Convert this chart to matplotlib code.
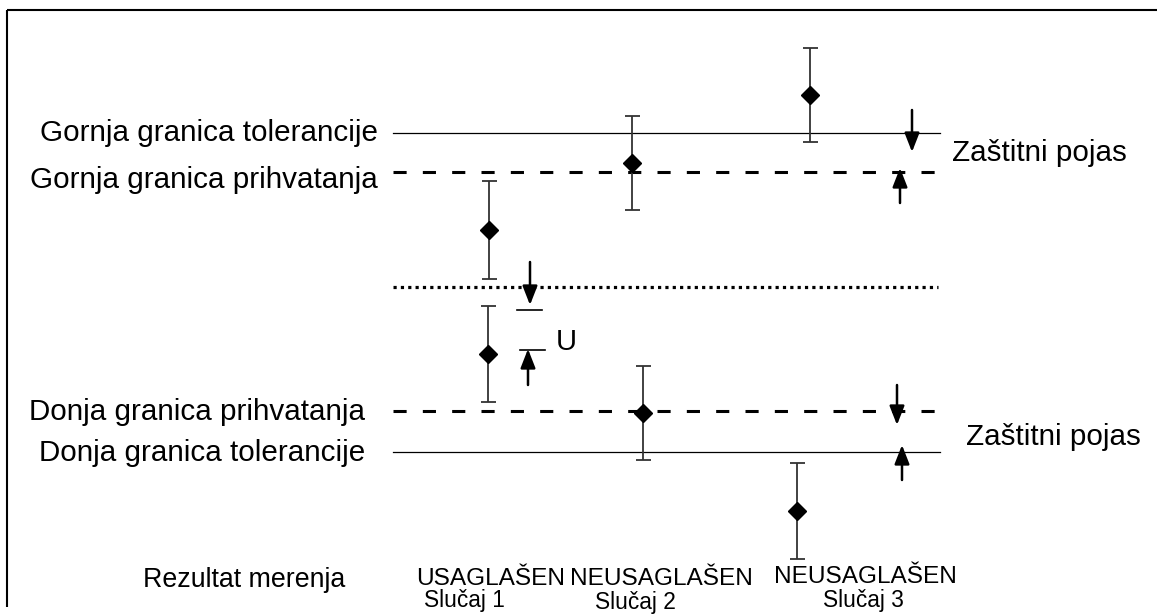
"""
Zaštitni pojas (guard band) diagram: measurement results vs tolerance and acceptance limits.
"""

import matplotlib
matplotlib.use("Agg")
import matplotlib.pyplot as plt

plt.rcParams["font.family"] = ["Liberation Sans", "DejaVu Sans"]

W, H = 1157, 615

# ── Limit lines (y in picture pixels) ─────────────────────────────
tol_upper = 133
acc_upper = 172
mid_line = 287
acc_lower = 411
tol_lower = 452
line_x0, line_x1 = 393, 938

# ── Measurement results: x, y, half-width of uncertainty ─────────
bar_x = [489, 488, 632, 643, 810, 797]
bar_y = [230, 354, 163, 413, 95, 511]
bar_err = [49, 48, 47, 47, 47, 48]

# ── Text ─────────────────────────────────────────────────────────
left_labels = [
    "Gornja granica tolerancije",
    "Gornja granica prihvatanja",
    "Donja granica prihvatanja",
    "Donja granica tolerancije",
]
left_label_y = [133, 180, 412, 453]
left_label_right = [378, 378, 365, 365]

verdicts = ["USAGLAŠEN", "NEUSAGLAŠEN", "NEUSAGLAŠEN"]
verdict_x = [491, 661, 865]
verdict_y = [579, 579, 577]
cases = ["Slučaj 1", "Slučaj 2", "Slučaj 3"]
case_x = [464, 635, 863]
case_y = [601, 602, 600]


def arrow(ax, x, y_from, y_to):
    ax.annotate(
        "", xy=(x, y_to), xytext=(x, y_from),
        arrowprops=dict(arrowstyle="-|>,head_length=1.15,head_width=0.45",
                        mutation_scale=10, lw=1.8, color="black",
                        shrinkA=0, shrinkB=0),
    )


fig = plt.figure(figsize=(W / 100, H / 100), dpi=100)
ax = fig.add_axes([0, 0, 1, 1])
ax.set_xlim(0, W)
ax.set_ylim(H, 0)
ax.axis("off")

# frame (top + left)
ax.plot([7, W], [10, 10], color="black", lw=1.5, solid_capstyle="butt")
ax.plot([7, 7], [10, 607], color="black", lw=1.5, solid_capstyle="butt")

# limit lines
ax.plot([line_x0, 940], [tol_upper, tol_upper], color="black", lw=0.9)
ax.plot([line_x0, 940], [tol_lower, tol_lower], color="black", lw=0.9)
ax.plot([line_x0, line_x1], [acc_upper, acc_upper], color="black", lw=2.2,
        linestyle=(0, (4.3, 5.3)), dash_capstyle="butt")
ax.plot([line_x0, line_x1], [acc_lower, acc_lower], color="black", lw=2.2,
        linestyle=(0, (4.3, 5.3)), dash_capstyle="butt")
ax.plot([line_x0, line_x1], [mid_line, mid_line], color="black", lw=2.3,
        linestyle=(0, (1, 1.3)), dash_capstyle="butt")

# measurement results with uncertainty
ax.errorbar(bar_x, bar_y, yerr=bar_err, fmt="D", color="black", ms=9,
            ecolor="#333333", elinewidth=1.3, capsize=5.4, capthick=1.3,
            zorder=3)

# U (uncertainty) marker
arrow(ax, 530, 262, 305)
ax.plot([517, 542], [310, 310], color="black", lw=1.2)
arrow(ax, 528, 385, 349)
ax.plot([520, 545], [350, 350], color="black", lw=1.2)
ax.text(556, 342, "U", fontsize=21, va="center", ha="left")

# guard band arrows
arrow(ax, 912, 110, 152)
arrow(ax, 900, 203, 168)
arrow(ax, 897, 385, 425)
arrow(ax, 902, 480, 445)
ax.text(952, 153, "Zaštitni pojas", fontsize=21.3, va="center", ha="left")
ax.text(966, 437, "Zaštitni pojas", fontsize=21.3, va="center", ha="left")

# left labels
for txt, y, xr in zip(left_labels, left_label_y, left_label_right):
    ax.text(xr, y, txt, fontsize=21.3, va="center", ha="right")
ax.text(345, 580, "Rezultat merenja", fontsize=19.3, va="center", ha="right")

# bottom verdicts
for txt, x, y in zip(verdicts, verdict_x, verdict_y):
    ax.text(x, y, txt, fontsize=17.6, va="center", ha="center")
for txt, x, y in zip(cases, case_x, case_y):
    ax.text(x, y, txt, fontsize=16.4, va="center", ha="center")

fig.savefig("out.png", dpi=100, facecolor="white")
